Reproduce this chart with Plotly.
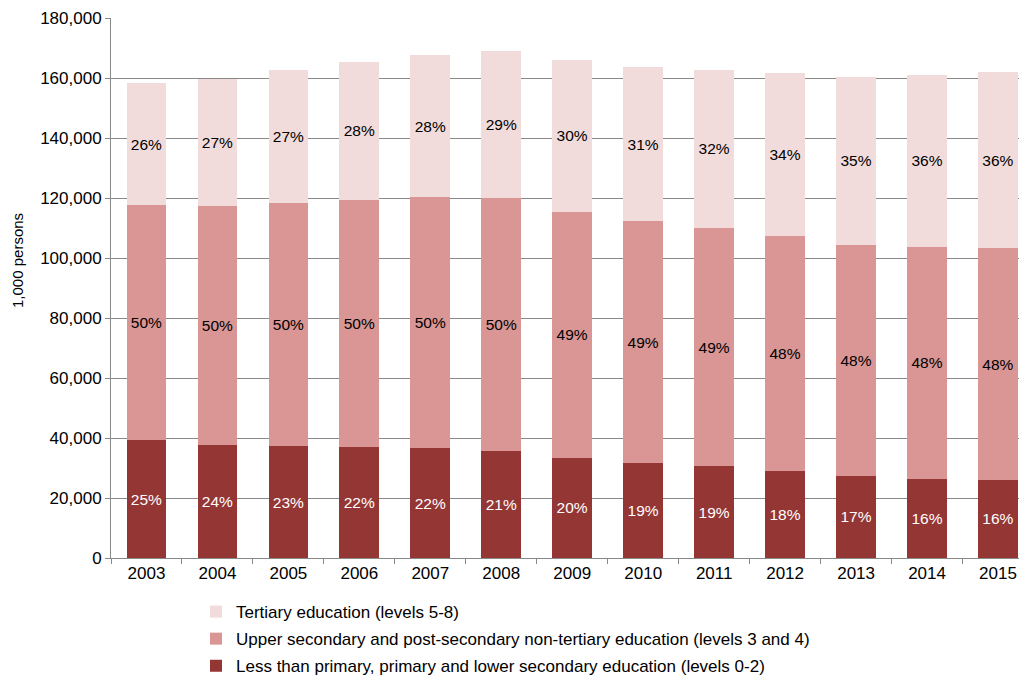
import plotly.graph_objects as go

years = ["2003", "2004", "2005", "2006", "2007", "2008", "2009",
         "2010", "2011", "2012", "2013", "2014", "2015"]

# thousands of persons
lower = [39200, 37800, 37200, 37100, 36600, 35800, 33500, 31800, 30600, 29100, 27400, 26400, 26100]
upper = [78400, 79400, 81000, 82300, 83600, 84200, 82000, 80400, 79300, 78200, 77100, 77400, 77100]
tertiary = [40700, 42600, 44400, 45900, 47400, 49000, 50500, 51400, 52900, 54400, 55800, 57300, 58700]

lower_pct = ["25%", "24%", "23%", "22%", "22%", "21%", "20%", "19%", "19%", "18%", "17%", "16%", "16%"]
upper_pct = ["50%", "50%", "50%", "50%", "50%", "50%", "49%", "49%", "49%", "48%", "48%", "48%", "48%"]
tertiary_pct = ["26%", "27%", "27%", "28%", "28%", "29%", "30%", "31%", "32%", "34%", "35%", "36%", "36%"]

names = [
    "Less than primary, primary and lower secondary education (levels 0-2)",
    "Upper secondary and post-secondary non-tertiary education (levels 3 and 4)",
    "Tertiary education (levels 5-8)",
]
colors = ["#943634", "#D99694", "#F2DCDB"]
text_colors = ["white", "black", "black"]
ranks = [3, 2, 1]

FONT = "Liberation Sans, Arial, sans-serif"

# page has an 8px body margin; size the figure to fit the visible window
W, H = 1011, 669
L, T, B = 103, 10, 119
PW, PH = W - L, H - T - B

fig = go.Figure()
for i, (vals, labels) in enumerate([(lower, lower_pct), (upper, upper_pct), (tertiary, tertiary_pct)]):
    fig.add_trace(go.Bar(
        x=years, y=vals, name=names[i],
        text=labels, texttemplate="%{text}",
        textposition="inside", insidetextanchor="middle", textangle=0,
        textfont=dict(family=FONT, size=15.5, color=text_colors[i]),
        marker=dict(color=colors[i], line=dict(width=0)),
        legendgroup="g%d" % i,
        legendrank=ranks[i],
        width=0.56,
        hoverinfo="skip",
    ))

fig.update_layout(
    width=W, height=H,
    barmode="stack",
    plot_bgcolor="white", paper_bgcolor="white",
    margin=dict(l=L, r=0, t=T, b=B),
    font=dict(family=FONT, size=17, color="black"),
    showlegend=True,
    legend=dict(
        orientation="v",
        xref="paper", yref="container",
        x=(196 - 8 - L) / PW, xanchor="left",
        y=1 - (594 - 8) / H, yanchor="top",
        traceorder="grouped",
        tracegroupgap=2,
        font=dict(family=FONT, size=17, color="black"),
        bgcolor="rgba(0,0,0,0)",
    ),
)

fig.update_xaxes(
    type="category",
    range=[-0.5, 12.296],
    showline=True, linecolor="#898989", linewidth=1,
    ticks="outside", tickson="boundaries", ticklen=5, tickcolor="#898989",
    showgrid=False,
    tickfont=dict(family=FONT, size=17, color="black"),
)
fig.update_yaxes(
    range=[0, 180000], dtick=20000, tickformat=",",
    showline=True, linecolor="#898989", linewidth=1,
    ticks="outside", ticklen=5, tickcolor="#898989",
    showgrid=True, gridcolor="#898989", gridwidth=1,
    zeroline=False,
    tickfont=dict(family=FONT, size=17, color="black"),
)

fig.add_annotation(
    text="1,000 persons", textangle=-90,
    xref="paper", yref="paper",
    x=(18 - 8 - L) / PW, y=(558 - 261) / PH,
    xanchor="center", yanchor="middle",
    showarrow=False,
    font=dict(family=FONT, size=15, color="black"),
)

fig.write_html("out.html")
